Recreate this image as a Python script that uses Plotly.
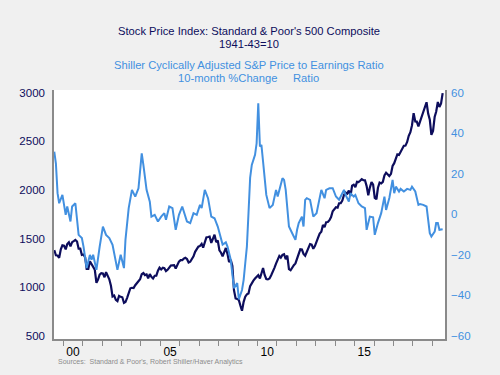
import plotly.graph_objects as go
import pandas as pd

# ---- Data ----
# S&P 500 composite, monthly average, Jul 1999 .. Jul 2019
sp_start = "1999-07-01"
sp500 = [
    1381, 1328, 1325, 1301, 1389, 1429,                                   # 1999 H2
    1425, 1388, 1442, 1461, 1419, 1462, 1473, 1485, 1469, 1395, 1396, 1331,  # 2000
    1336, 1305, 1186, 1186, 1266, 1238, 1205, 1179, 1044, 1077, 1129, 1144,  # 2001
    1140, 1101, 1154, 1112, 1080, 1014, 903, 912, 868, 855, 910, 900,        # 2002
    895, 837, 846, 890, 936, 988, 993, 990, 1019, 1039, 1050, 1081,          # 2003
    1132, 1144, 1124, 1131, 1091, 1133, 1106, 1089, 1117, 1118, 1169, 1200,  # 2004
    1182, 1199, 1194, 1164, 1178, 1202, 1222, 1224, 1226, 1192, 1238, 1262,  # 2005
    1278, 1277, 1293, 1302, 1290, 1253, 1261, 1287, 1317, 1363, 1389, 1416,  # 2006
    1424, 1445, 1407, 1463, 1511, 1515, 1520, 1455, 1497, 1539, 1463, 1479,  # 2007
    1378, 1354, 1317, 1371, 1403, 1342, 1257, 1281, 1217, 968, 883, 878,     # 2008
    866, 806, 757, 848, 902, 926, 935, 1010, 1045, 1067, 1088, 1110,         # 2009
    1123, 1089, 1152, 1197, 1125, 1083, 1079, 1088, 1122, 1171, 1198, 1242,  # 2010
    1283, 1321, 1304, 1331, 1338, 1287, 1325, 1185, 1173, 1207, 1226, 1243,  # 2011
    1300, 1352, 1389, 1386, 1341, 1323, 1360, 1403, 1443, 1437, 1394, 1422,  # 2012
    1480, 1512, 1551, 1570, 1639, 1618, 1668, 1670, 1688, 1721, 1781, 1807,  # 2013
    1822, 1817, 1863, 1864, 1890, 1947, 1973, 1962, 1993, 1937, 2044, 2054,  # 2014
    2028, 2083, 2080, 2094, 2111, 2100, 2099, 2039, 1944, 2024, 2080, 2054,  # 2015
    1918, 1904, 2022, 2075, 2066, 2083, 2149, 2177, 2158, 2143, 2165, 2247,  # 2016
    2275, 2330, 2366, 2360, 2395, 2434, 2454, 2456, 2493, 2557, 2594, 2664,  # 2017
    2790, 2705, 2703, 2654, 2702, 2754, 2794, 2858, 2902, 2785, 2723, 2567,  # 2018
    2607, 2754, 2804, 2904, 2854, 2890, 2996,                                # 2019
]

# Shiller CAPE, 10-month % change
cape_months = [
    "1999-07", "1999-08", "1999-09", "1999-10", "1999-12", "2000-02", "2000-03", "2000-05",
    "2000-06", "2000-08", "2000-10", "2000-12", "2001-01", "2001-03", "2001-05", "2001-06",
    "2001-07", "2001-09", "2001-11", "2002-01", "2002-03", "2002-05", "2002-07", "2002-08",
    "2002-10", "2002-12", "2003-02", "2003-03", "2003-05", "2003-07", "2003-09", "2003-11",
    "2004-01", "2004-02", "2004-04", "2004-06", "2004-07", "2004-09", "2004-11", "2005-01",
    "2005-03", "2005-04", "2005-06", "2005-08", "2005-10", "2005-12", "2006-02", "2006-05",
    "2006-07", "2006-09", "2006-11", "2007-01", "2007-02", "2007-04", "2007-06", "2007-08",
    "2007-10", "2007-12", "2008-02", "2008-03", "2008-05", "2008-06", "2008-08", "2008-09",
    "2008-10", "2008-12", "2009-01", "2009-03", "2009-04", "2009-05", "2009-06", "2009-07",
    "2009-08", "2009-09", "2009-11", "2009-12", "2010-01", "2010-02", "2010-03", "2010-04",
    "2010-06", "2010-08", "2010-10", "2010-12", "2011-01", "2011-04", "2011-05", "2011-06",
    "2011-08", "2011-10", "2011-12", "2012-01", "2012-02", "2012-04", "2012-05", "2012-06",
    "2012-07", "2012-09", "2012-11", "2013-01", "2013-03", "2013-04", "2013-06", "2013-07",
    "2013-09", "2013-11", "2014-01", "2014-03", "2014-04", "2014-06", "2014-07", "2014-09",
    "2014-10", "2014-12", "2015-01", "2015-03", "2015-05", "2015-07", "2015-08", "2015-10",
    "2015-12", "2016-01", "2016-03", "2016-05", "2016-07", "2016-08", "2016-10", "2016-12",
    "2017-01", "2017-02", "2017-04", "2017-05", "2017-07", "2017-09", "2017-11", "2017-12",
    "2018-02", "2018-04", "2018-05", "2018-07", "2018-09", "2018-10", "2018-11", "2018-12",
    "2019-02", "2019-03", "2019-04", "2019-05", "2019-07",
]
cape_chg = [
    30.9, 25.0, 10.4, 5.4, 9.5, -0.3, 3.8, -3.6,
    3.8, 5.4, -10.2, -11.8, -16.0, -26.6, -20.1, -22.5,
    -20.0, -27.5, -16.0, -6.1, -10.2, -11.8, -15.1, -19.2,
    -27.5, -20.0, -26.6, -12.7, 3.0, 12.0, 8.7, 12.8,
    30.0, 24.3, 12.0, 6.2, -1.2, -0.3, -3.6, -1.2,
    0.5, -2.8, 3.8, 3.0, -7.7, -0.3, 3.8, -3.6,
    -4.4, 0.5, -0.3, 4.6, 3.0, 12.0, 7.9, -1.2,
    -2.0, -6.1, -11.8, -15.0, -13.9, -16.0, -22.5, -28.3,
    -36.5, -34.0, -42.0, -37.4, -32.4, -24.2, -16.0, 0.5,
    18.0, 24.3, 29.3, 35.0, 54.8, 33.4, 34.2, 26.0,
    9.5, 3.0, 4.6, 12.0, 8.7, 17.8, 16.9, 12.0,
    -6.1, -9.4, -12.7, -7.7, -4.4, -1.2, -6.1, 7.1,
    7.9, 7.1, -1.2, 0.5, 7.9, 12.0, 7.9, 12.0,
    12.8, 12.8, 8.7, 7.1, 8.7, 12.0, 9.5, 6.2,
    10.4, 8.7, 9.5, 5.4, 3.8, 3.0, -7.7, -1.2,
    -1.5, -10.2, -4.4, 0.5, 8.7, 2.1, 8.0, 16.9,
    10.4, 13.6, 11.2, 12.5, 11.2, 12.5, 12.0, 13.6,
    11.2, 4.6, 5.0, 4.6, 3.8, -4.4, -9.4, -11.0,
    -8.6, -4.4, -4.4, -7.7, -7.4,
]

left_ticks = [500, 1000, 1500, 2000, 2500, 3000]
right_ticks = [-60, -40, -20, 0, 20, 40, 60]
year_label_vals = ["2000-07-01", "2005-07-01", "2010-07-01", "2015-07-01"]
year_label_text = ["00", "05", "10", "15"]
year_tick_vals = [f"{y}-01-01" for y in range(2000, 2020)]

NAVY = "#0d0d5c"
BLUE = "#4290e0"
GRAY = "#8a8a8a"
FONT = "Arial, Liberation Sans, sans-serif"

sp_dates = pd.date_range(sp_start, periods=len(sp500), freq="MS") + pd.Timedelta(days=14)
cape_dates = [m + "-15" for m in cape_months]

fig = go.Figure()
fig.add_trace(go.Scatter(x=sp_dates, y=sp500, mode="lines",
                         line=dict(color=NAVY, width=2.2), yaxis="y", hoverinfo="skip"))
fig.add_trace(go.Scatter(x=cape_dates, y=cape_chg, mode="lines",
                         line=dict(color=BLUE, width=2), yaxis="y2", hoverinfo="skip"))

fig.update_layout(
    width=500, height=375,
    margin=dict(l=54, r=55, t=90, b=36),
    paper_bgcolor="#f0f0f0", plot_bgcolor="white",
    showlegend=False,
    font=dict(family=FONT),
    xaxis=dict(
        type="date", range=["1999-07-10", "2019-08-28"],
        tickmode="array", tickvals=year_label_vals, ticktext=year_label_text,
        ticks="", showgrid=False, zeroline=False,
        showline=True, linecolor=GRAY, linewidth=1.5,
        ticklabelstandoff=1,
        tickfont=dict(size=12, color="black", family=FONT),
        minor=dict(tickmode="array", tickvals=year_tick_vals, ticks="outside",
                   ticklen=5, tickcolor=GRAY, tickwidth=1, showgrid=False),
    ),
    yaxis=dict(
        range=[466, 3028], tickmode="array", tickvals=left_ticks,
        ticks="", showgrid=False, zeroline=False,
        showline=True, linecolor=GRAY, linewidth=1.5,
        ticklabelstandoff=5,
        tickfont=dict(size=11.5, color=NAVY, family=FONT),
    ),
    yaxis2=dict(
        overlaying="y", side="right",
        range=[-61.6, 61.3], tickmode="array", tickvals=right_ticks,
        ticks="", showgrid=False, zeroline=False,
        showline=True, linecolor=GRAY, linewidth=1.5,
        ticklabelstandoff=2,
        tickfont=dict(size=11.5, color=BLUE, family=FONT),
    ),
)

def px_x(x):
    return (x - 54) / 391.0

def px_y(y):
    return (339 - y) / 249.0

titles = [
    ("Stock Price Index: Standard & Poor's 500 Composite", 248.5, 31, NAVY),
    ("1941-43=10", 249, 44, NAVY),
    ("Shiller Cyclically Adjusted S&P Price to Earnings Ratio", 249, 65, BLUE),
    ("10-month %Change", 227.5, 78, BLUE),
    ("Ratio", 306, 78, BLUE),
]
for text, x, y, col in titles:
    fig.add_annotation(text=text, x=px_x(x), y=px_y(y), xref="paper", yref="paper",
                       xanchor="center", yanchor="middle", showarrow=False,
                       font=dict(size=11.2, color=col, family=FONT))

fig.add_annotation(text="Sources:  Standard & Poor's, Robert Shiller/Haver Analytics",
                   x=px_x(56), y=px_y(362), xref="paper", yref="paper",
                   xanchor="left", yanchor="middle", showarrow=False,
                   font=dict(size=7, color="#8c8c8c", family=FONT))

fig.write_html("out.html", config={"displayModeBar": False},
               post_script="document.body.style.margin='0';document.body.style.background='#f0f0f0';")
